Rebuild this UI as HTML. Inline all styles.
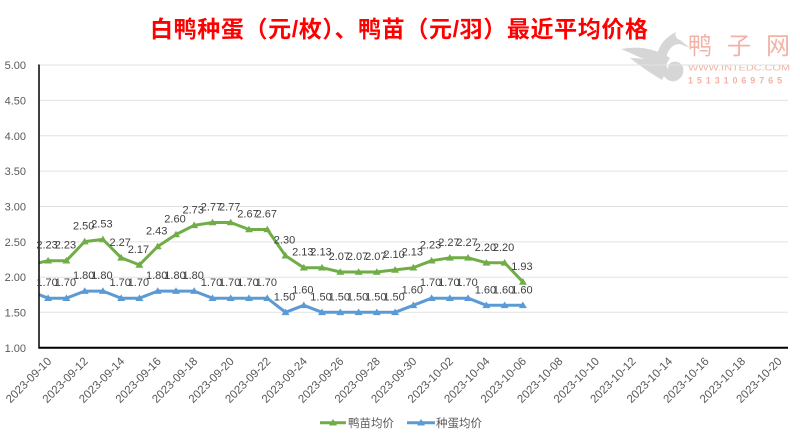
<!DOCTYPE html>
<html>
<head>
<meta charset="utf-8">
<style>
html,body{margin:0;padding:0;background:#fff;}
svg{display:block;}
text{font-family:"Liberation Sans","Noto Sans CJK SC",sans-serif;}
</style>
</head>
<body>
<svg width="800" height="439" viewBox="0 0 800 439" xmlns="http://www.w3.org/2000/svg">
<defs>
  <clipPath id="plot"><rect x="39" y="55" width="749" height="300"/></clipPath>
  <path id="triG" d="M-4,2.8 L4,2.8 L0,-3.8 Z" fill="#70AD47"/>
  <path id="triB" d="M-4,2.8 L4,2.8 L0,-3.8 Z" fill="#5B9BD5"/>
</defs>
<rect width="800" height="439" fill="#fff"/>

<!-- title -->
<text x="150" y="37" font-size="23" font-weight="bold" fill="#FF0000" textLength="498" lengthAdjust="spacing" style='font-family:"Liberation Sans","Noto Sans CJK SC",sans-serif'>白鸭种蛋（元/枚）、鸭苗（元/羽）最近平均价格</text>

<!-- watermark logo -->
<g fill="#d2d2d2" opacity="0.9">
  <path d="M621,49 Q648,44 670,58 L664,68 Q642,58 621,49 Z"/>
  <path d="M630,58 Q652,58 668,68 L662,80 Q645,70 630,58 Z"/>
  <path d="M676,32 Q660,40 657,55 Q655,70 668,80 Q676,84 682,76 Q686,66 678,62 Q668,60 668,70 Q664,62 668,52 Q672,44 680,44 L690,48 L680,40 Q674,38 676,32 Z"/>
</g>
<text x="688" y="54" font-size="24" fill="#f2b2a5" textLength="102" lengthAdjust="spacing">鸭子网</text>
<text x="688" y="70.5" font-size="8.5" fill="#f2b2a5" textLength="102" lengthAdjust="spacingAndGlyphs">WWW.INTEDC.COM</text>
<text x="688" y="83.5" font-size="9" font-weight="bold" fill="#f2b2a5" textLength="94" lengthAdjust="spacing">15131069765</text>

<!-- gridlines -->
<g stroke="#e2e2e2" stroke-width="1">
  <line x1="39" y1="65" x2="788" y2="65"/>
  <line x1="39" y1="100.4" x2="788" y2="100.4"/>
  <line x1="39" y1="135.8" x2="788" y2="135.8"/>
  <line x1="39" y1="171.1" x2="788" y2="171.1"/>
  <line x1="39" y1="206.5" x2="788" y2="206.5"/>
  <line x1="39" y1="241.9" x2="788" y2="241.9"/>
  <line x1="39" y1="277.2" x2="788" y2="277.2"/>
  <line x1="39" y1="312.3" x2="788" y2="312.3"/>
</g>

<!-- y labels -->
<g font-size="11" fill="#595959" text-anchor="end">
  <text x="26" y="69">5.00</text>
  <text x="26" y="104.4">4.50</text>
  <text x="26" y="139.8">4.00</text>
  <text x="26" y="175.1">3.50</text>
  <text x="26" y="210.5">3.00</text>
  <text x="26" y="245.9">2.50</text>
  <text x="26" y="281.2">2.00</text>
  <text x="26" y="316.5">1.50</text>
  <text x="26" y="351.8">1.00</text>
</g>

<!-- series lines -->
<g clip-path="url(#plot)" fill="none" stroke-width="3" stroke-linejoin="round" stroke-linecap="round">
  <polyline stroke="#70AD47" points="29.9,264.9 48.1,260.7 66.4,260.7 84.7,241.6 102.9,239.4 121.2,257.8 139.4,264.9 157.7,246.5 176.0,234.5 194.2,225.3 212.5,222.5 230.7,222.5 249.0,229.5 267.3,229.5 285.5,255.7 303.8,267.7 322.0,267.7 340.3,272.0 358.6,272.0 376.8,272.0 395.1,269.9 413.3,267.7 431.6,260.7 449.9,257.8 468.1,257.8 486.4,262.8 504.6,262.8 522.9,281.9"/>
  <polyline stroke="#5B9BD5" points="29.9,291.1 48.1,298.2 66.4,298.2 84.7,291.1 102.9,291.1 121.2,298.2 139.4,298.2 157.7,291.1 176.0,291.1 194.2,291.1 212.5,298.2 230.7,298.2 249.0,298.2 267.3,298.2 285.5,312.3 303.8,305.3 322.0,312.3 340.3,312.3 358.6,312.3 376.8,312.3 395.1,312.3 413.3,305.3 431.6,298.2 449.9,298.2 468.1,298.2 486.4,305.3 504.6,305.3 522.9,305.3"/>
</g>

<!-- axes -->
<line x1="39" y1="64.5" x2="39" y2="348.5" stroke="#000" stroke-width="1.5"/>
<line x1="38.5" y1="347.7" x2="788" y2="347.7" stroke="#000" stroke-width="2"/>

<!-- green markers -->
<g>
<use href="#triG" x="48.1" y="260.7"/><use href="#triG" x="66.4" y="260.7"/><use href="#triG" x="84.7" y="241.6"/><use href="#triG" x="102.9" y="239.4"/><use href="#triG" x="121.2" y="257.8"/><use href="#triG" x="139.4" y="264.9"/><use href="#triG" x="157.7" y="246.5"/><use href="#triG" x="176.0" y="234.5"/><use href="#triG" x="194.2" y="225.3"/><use href="#triG" x="212.5" y="222.5"/><use href="#triG" x="230.7" y="222.5"/><use href="#triG" x="249.0" y="229.5"/><use href="#triG" x="267.3" y="229.5"/><use href="#triG" x="285.5" y="255.7"/><use href="#triG" x="303.8" y="267.7"/><use href="#triG" x="322.0" y="267.7"/><use href="#triG" x="340.3" y="272.0"/><use href="#triG" x="358.6" y="272.0"/><use href="#triG" x="376.8" y="272.0"/><use href="#triG" x="395.1" y="269.9"/><use href="#triG" x="413.3" y="267.7"/><use href="#triG" x="431.6" y="260.7"/><use href="#triG" x="449.9" y="257.8"/><use href="#triG" x="468.1" y="257.8"/><use href="#triG" x="486.4" y="262.8"/><use href="#triG" x="504.6" y="262.8"/><use href="#triG" x="522.9" y="281.9"/>
</g>
<!-- blue markers -->
<g>
<use href="#triB" x="48.1" y="298.2"/><use href="#triB" x="66.4" y="298.2"/><use href="#triB" x="84.7" y="291.1"/><use href="#triB" x="102.9" y="291.1"/><use href="#triB" x="121.2" y="298.2"/><use href="#triB" x="139.4" y="298.2"/><use href="#triB" x="157.7" y="291.1"/><use href="#triB" x="176.0" y="291.1"/><use href="#triB" x="194.2" y="291.1"/><use href="#triB" x="212.5" y="298.2"/><use href="#triB" x="230.7" y="298.2"/><use href="#triB" x="249.0" y="298.2"/><use href="#triB" x="267.3" y="298.2"/><use href="#triB" x="285.5" y="312.3"/><use href="#triB" x="303.8" y="305.3"/><use href="#triB" x="322.0" y="312.3"/><use href="#triB" x="340.3" y="312.3"/><use href="#triB" x="358.6" y="312.3"/><use href="#triB" x="376.8" y="312.3"/><use href="#triB" x="395.1" y="312.3"/><use href="#triB" x="413.3" y="305.3"/><use href="#triB" x="431.6" y="298.2"/><use href="#triB" x="449.9" y="298.2"/><use href="#triB" x="468.1" y="298.2"/><use href="#triB" x="486.4" y="305.3"/><use href="#triB" x="504.6" y="305.3"/><use href="#triB" x="522.9" y="305.3"/>
</g>

<!-- green data labels -->
<g font-size="11" fill="#404040" text-anchor="middle">
<text x="47.1" y="248.7">2.23</text><text x="65.4" y="248.7">2.23</text><text x="83.7" y="229.6">2.50</text><text x="101.9" y="227.4">2.53</text><text x="120.2" y="245.8">2.27</text><text x="138.4" y="252.9">2.17</text><text x="156.7" y="234.5">2.43</text><text x="175.0" y="222.5">2.60</text><text x="193.2" y="213.3">2.73</text><text x="211.5" y="210.5">2.77</text><text x="229.7" y="210.5">2.77</text><text x="248.0" y="217.5">2.67</text><text x="266.3" y="217.5">2.67</text><text x="284.5" y="243.7">2.30</text><text x="302.8" y="255.7">2.13</text><text x="321.0" y="255.7">2.13</text><text x="339.3" y="260.0">2.07</text><text x="357.6" y="260.0">2.07</text><text x="375.8" y="260.0">2.07</text><text x="394.1" y="257.9">2.10</text><text x="412.3" y="255.7">2.13</text><text x="430.6" y="248.7">2.23</text><text x="448.9" y="245.8">2.27</text><text x="467.1" y="245.8">2.27</text><text x="485.4" y="250.8">2.20</text><text x="503.6" y="250.8">2.20</text><text x="521.9" y="269.9">1.93</text>
</g>
<!-- blue data labels -->
<g font-size="11" fill="#404040" text-anchor="middle">
<text x="47.1" y="286.2">1.70</text><text x="65.4" y="286.2">1.70</text><text x="83.7" y="279.1">1.80</text><text x="101.9" y="279.1">1.80</text><text x="120.2" y="286.2">1.70</text><text x="138.4" y="286.2">1.70</text><text x="156.7" y="279.1">1.80</text><text x="175.0" y="279.1">1.80</text><text x="193.2" y="279.1">1.80</text><text x="211.5" y="286.2">1.70</text><text x="229.7" y="286.2">1.70</text><text x="248.0" y="286.2">1.70</text><text x="266.3" y="286.2">1.70</text><text x="284.5" y="300.3">1.50</text><text x="302.8" y="293.3">1.60</text><text x="321.0" y="300.3">1.50</text><text x="339.3" y="300.3">1.50</text><text x="357.6" y="300.3">1.50</text><text x="375.8" y="300.3">1.50</text><text x="394.1" y="300.3">1.50</text><text x="412.3" y="293.3">1.60</text><text x="430.6" y="286.2">1.70</text><text x="448.9" y="286.2">1.70</text><text x="467.1" y="286.2">1.70</text><text x="485.4" y="293.3">1.60</text><text x="503.6" y="293.3">1.60</text><text x="521.9" y="293.3">1.60</text>
</g>

<!-- x labels -->
<g font-size="11.5" fill="#595959" text-anchor="end">
<text transform="translate(52.1,362) rotate(-45)">2023-09-10</text>
<text transform="translate(88.7,362) rotate(-45)">2023-09-12</text>
<text transform="translate(125.2,362) rotate(-45)">2023-09-14</text>
<text transform="translate(161.7,362) rotate(-45)">2023-09-16</text>
<text transform="translate(198.2,362) rotate(-45)">2023-09-18</text>
<text transform="translate(234.7,362) rotate(-45)">2023-09-20</text>
<text transform="translate(271.3,362) rotate(-45)">2023-09-22</text>
<text transform="translate(307.8,362) rotate(-45)">2023-09-24</text>
<text transform="translate(344.3,362) rotate(-45)">2023-09-26</text>
<text transform="translate(380.8,362) rotate(-45)">2023-09-28</text>
<text transform="translate(417.3,362) rotate(-45)">2023-09-30</text>
<text transform="translate(453.9,362) rotate(-45)">2023-10-02</text>
<text transform="translate(490.4,362) rotate(-45)">2023-10-04</text>
<text transform="translate(526.9,362) rotate(-45)">2023-10-06</text>
<text transform="translate(563.4,362) rotate(-45)">2023-10-08</text>
<text transform="translate(599.9,362) rotate(-45)">2023-10-10</text>
<text transform="translate(636.5,362) rotate(-45)">2023-10-12</text>
<text transform="translate(673.0,362) rotate(-45)">2023-10-14</text>
<text transform="translate(709.5,362) rotate(-45)">2023-10-16</text>
<text transform="translate(746.0,362) rotate(-45)">2023-10-18</text>
<text transform="translate(782.5,362) rotate(-45)">2023-10-20</text>
</g>

<!-- legend -->
<line x1="320" y1="422.7" x2="346" y2="422.7" stroke="#70AD47" stroke-width="3"/>
<use href="#triG" x="333" y="422.7"/>
<text x="348" y="427" font-size="11.5" fill="#595959">鸭苗均价</text>
<line x1="407" y1="422.7" x2="435" y2="422.7" stroke="#5B9BD5" stroke-width="3"/>
<use href="#triB" x="421" y="422.7"/>
<text x="436" y="427" font-size="11.5" fill="#595959">种蛋均价</text>
</svg>
</body>
</html>
